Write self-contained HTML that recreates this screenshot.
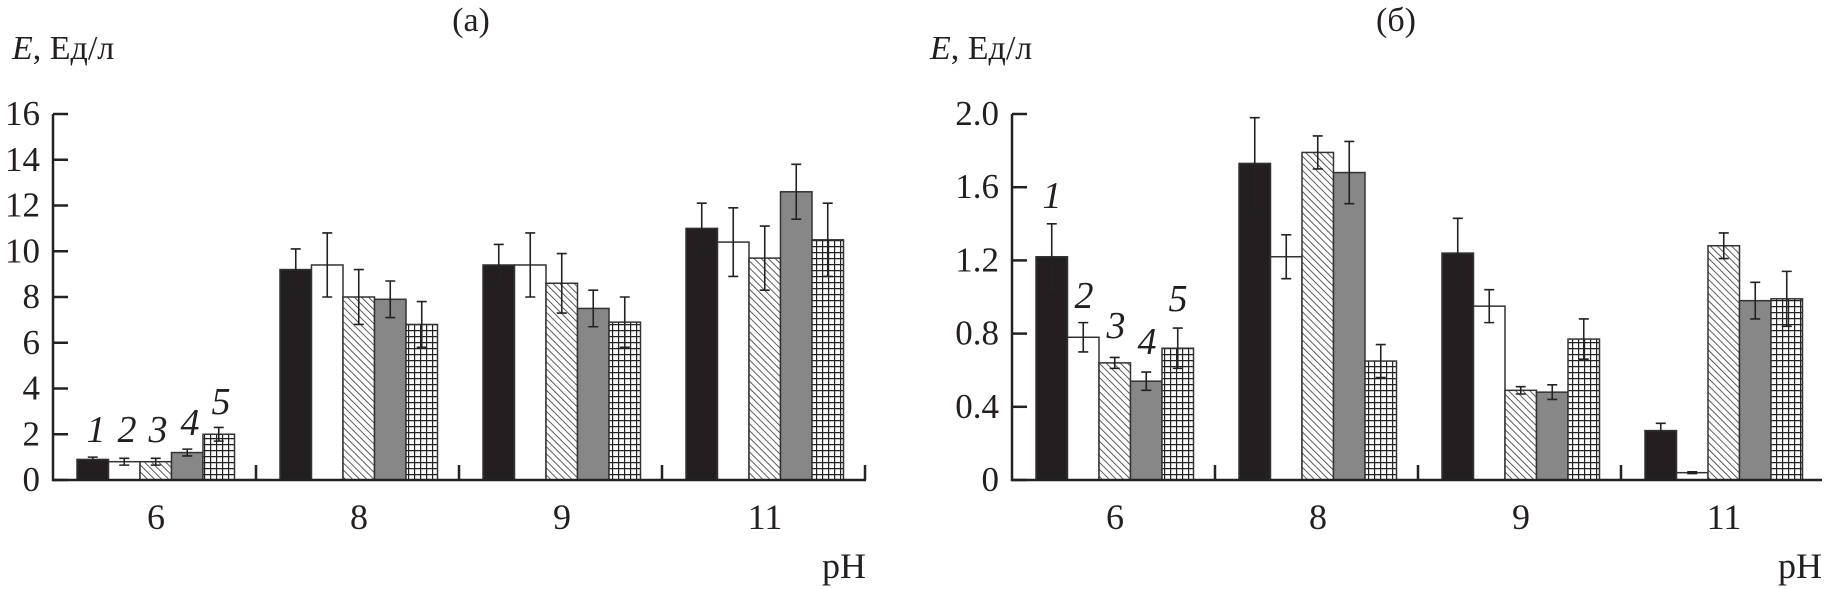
<!DOCTYPE html>
<html><head><meta charset="utf-8"><style>
html,body{margin:0;padding:0;background:#fff;}
svg{display:block;font-family:"Liberation Serif","DejaVu Serif",serif;}
</style></head><body>
<svg id="chart" width="1824" height="589" viewBox="0 0 1824 589" xmlns="http://www.w3.org/2000/svg">
<defs>
<pattern id="hatch" patternUnits="userSpaceOnUse" width="5" height="5" patternTransform="rotate(-45)">
<rect width="5" height="5" fill="#fff"/><line x1="0" y1="0" x2="0" y2="5" stroke="#333" stroke-width="1.6"/>
</pattern>
<pattern id="grid" patternUnits="userSpaceOnUse" width="6" height="6">
<rect width="6" height="6" fill="#fff"/><path d="M0 0.5H6M0.5 0V6" stroke="#222" stroke-width="1.4"/>
</pattern>
</defs>
</svg>
<script>
const groups = ["6","8","9","11"];
const aVals = [[0.9,0.8,0.8,1.2,2.0],[9.2,9.4,8.0,7.9,6.8],[9.4,9.4,8.6,7.5,6.9],[11.0,10.4,9.7,12.6,10.5]];
const aErr  = [[0.1,0.15,0.15,0.15,0.3],[0.9,1.4,1.2,0.8,1.0],[0.9,1.4,1.3,0.8,1.1],[1.1,1.5,1.4,1.2,1.6]];
const bVals = [[1.22,0.78,0.64,0.54,0.72],[1.73,1.22,1.79,1.68,0.65],[1.24,0.95,0.49,0.48,0.77],[0.27,0.04,1.28,0.98,0.99]];
const bErr  = [[0.18,0.08,0.03,0.05,0.11],[0.25,0.12,0.09,0.17,0.09],[0.19,0.09,0.02,0.04,0.11],[0.04,0.005,0.07,0.1,0.15]];
const aTicks = ["0","2","4","6","8","10","12","14","16"];
const bTicks = ["0","0.4","0.8","1.2","1.6","2.0"];
const seriesLabels = ["1","2","3","4","5"];
const fills = ["#231f20","#ffffff","url(#hatch)","#878787","url(#grid)"];

const svg = document.getElementById('chart');
const NS = "http://www.w3.org/2000/svg";
function mk(tag, attrs, parent){const e=document.createElementNS(NS,tag);for(const k in attrs)e.setAttribute(k,attrs[k]);(parent||svg).appendChild(e);return e;}

function panel(cfg){
  const g = mk('g',{});
  
  
  const x0=cfg.x0, y0=480, yTop=114, ymax=cfg.ymax;
  const y = v => y0 - (v/ymax)*(y0-yTop);
  const gx = (i,j) => x0 + 24 + i*203 + j*31.5;
  cfg.vals.forEach((row,i)=>row.forEach((v,j)=>{
    const r = mk('rect',{x:gx(i,j),y:y(v),width:31.5,height:y0-y(v),fill:fills[j],stroke:'#333','stroke-width':1.5},g);
    
    
    const e = cfg.err[i][j], cx = gx(i,j)+15.75;
    const eb = mk('path',{d:`M${cx} ${y(v+e)}V${y(Math.max(0,v-e))}M${cx-5} ${y(v+e)}H${cx+5}M${cx-5} ${y(Math.max(0,v-e))}H${cx+5}`,stroke:'#222','stroke-width':1.6,fill:'none'},g);
    
    
  }));
  const ax = mk('path',{d:`M${x0} ${yTop}V${y0}H${cfg.xEnd}`,stroke:'#222','stroke-width':2.5,fill:'none'},g);
  
  
  cfg.ticks.forEach((t,k)=>{
    const v = parseFloat(t), yy=y(v);
    mk('path',{d:`M${x0} ${yy}H${x0+15}`,stroke:'#222','stroke-width':2.5},g);
    const tx = mk('text',{x:x0-13,y:yy+11,'text-anchor':'end','font-size':35,fill:'#231f20'},g);
    tx.textContent=t;
    
    
  });
  for(let k=1;k<=4;k++){
    const xx=x0+k*203; if(xx<=cfg.xEnd) mk('path',{d:`M${xx} ${y0}V${y0-15}`,stroke:'#222','stroke-width':2.5},g);
  }
  groups.forEach((lab,i)=>{
    const tx = mk('text',{x:x0+103+i*203,y:529,'text-anchor':'middle','font-size':36,fill:'#231f20'},g);
    tx.textContent=lab;
    
    
  });
  const ph = mk('text',{x:cfg.xEnd,y:578,'text-anchor':'end','font-size':36,fill:'#231f20'},g);
  ph.textContent='pH';
  
  
  const yt = mk('text',{x:cfg.ytx,y:59,'font-size':34,fill:'#231f20'},g);
  yt.innerHTML='<tspan font-style="italic">E</tspan>, Ед/л';
  
  
  const tt = mk('text',{x:cfg.titleX,y:31,'text-anchor':'middle','font-size':34,fill:'#231f20'},g);
  tt.textContent=cfg.title;
  
  
  cfg.numPos.forEach((p,j)=>{
    const n = mk('text',{x:p[0],y:p[1],'text-anchor':'middle','font-size':38,'font-style':'italic',fill:'#231f20'},g);
    n.textContent=seriesLabels[j];
    
    
  });
}
panel({name:'panel-a',x0:53,xEnd:866,ymax:16,vals:aVals,err:aErr,ticks:aTicks,ytx:12,titleX:471,title:'(а)',
  numPos:[[96,442],[127,442],[158,442],[190,435],[221,414]]});
panel({name:'panel-b',x0:1012,xEnd:1822,ymax:2.0,vals:bVals,err:bErr,ticks:bTicks,ytx:930,titleX:1396,title:'(б)',
  numPos:[[1052,208],[1084,308],[1116,338],[1147,354],[1178,311]]});
</script>
</body></html>
